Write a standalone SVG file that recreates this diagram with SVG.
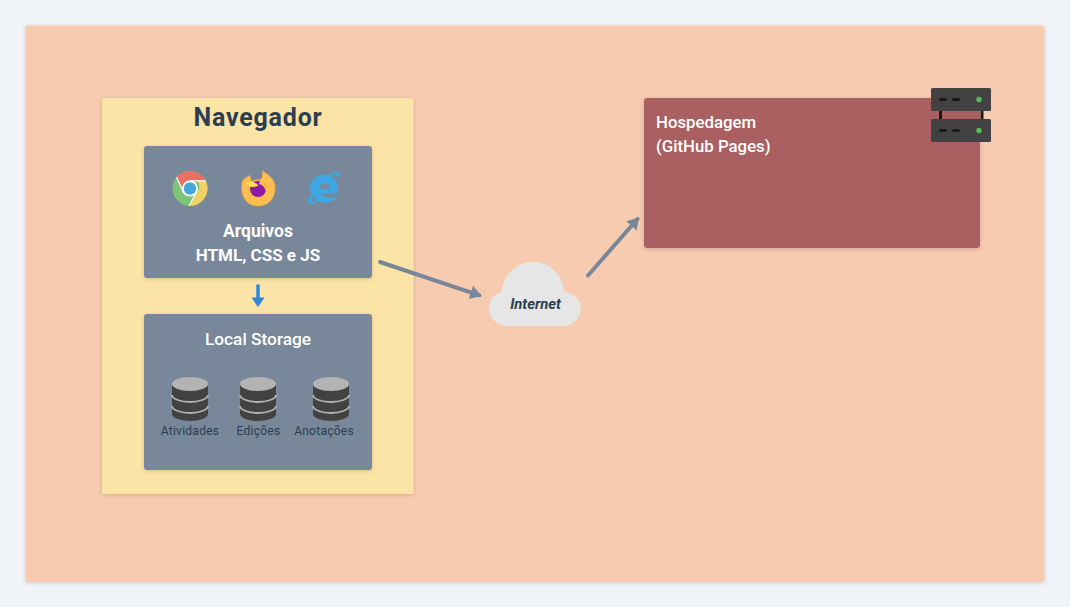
<svg xmlns="http://www.w3.org/2000/svg" width="1070" height="607" viewBox="0 0 1070 607">
<style>
text{font-family:"Roboto","Liberation Sans",sans-serif}
.w{fill:#fff;font-weight:700;font-size:17px;text-anchor:middle}
.h{fill:#fff;font-weight:500;font-size:16.800px}
.l{fill:#2c3e50;font-size:12px;text-anchor:middle;letter-spacing:.25px}
.c{fill:none;stroke:#78879a;stroke-width:4;stroke-linecap:round}
.box{fill:#78879a;filter:url(#s)}
</style>
<defs>
<filter id="s" x="-5%" y="-5%" width="110%" height="112%"><feDropShadow dx="0" dy="1" stdDeviation="2" flood-color="#000" flood-opacity=".16"/></filter>
<marker id="g" markerUnits="userSpaceOnUse" markerWidth="18" markerHeight="18" refX="12" refY="9" orient="auto"><path d="M3 2L14 9L3 16Z" fill="#78879a"/></marker>
<g id="db">
<path d="M-18 7V37C-18 41 -9 44 0 44S18 41 18 37V7Z" fill="#424242"/>
<path d="M-18 18C-18 22 -9 25 0 25S18 22 18 18M-18 29C-18 33 -9 36 0 36S18 33 18 29" fill="none" stroke="#b3b3b3" stroke-width="1.800"/>
<ellipse cx="0" cy="7" rx="18" ry="7" fill="#b3b3b3"/>
</g>
<g id="srv">
<rect x="0" y="0" width="60" height="23" rx="1.500" fill="#424242"/>
<rect x="8" y="10" width="8" height="3" rx="1.500" fill="#1a1a1a"/>
<rect x="21" y="10" width="8" height="3" rx="1.500" fill="#1a1a1a"/>
<circle cx="48" cy="11.500" r="2.700" fill="#5cb85c"/>
</g>
</defs>
<rect width="1070" height="607" fill="#f0f4f8"/>
<rect x="25.500" y="25.500" width="1019" height="556.500" rx="2" fill="#f6cbaf" filter="url(#s)"/>
<g id="navegador">
<rect x="102" y="98" width="311.500" height="396" rx="2" fill="#fce4a6" filter="url(#s)"/>
<text x="258" y="126" text-anchor="middle" font-size="25" font-weight="700" letter-spacing=".8" fill="#2c3e50">Navegador</text>
</g>
<g id="arquivos">
<rect class="box" x="144" y="146" width="228" height="132" rx="3"/>
<g id="chrome">
<circle cx="190" cy="188.500" r="17.500" fill="#7cc576"/>
<path d="M176.500 177.300A17.500 17.500 0 0 1 205.700 181H190A8 8 0 0 0 183 192.500Z" fill="#ea7066"/>
<path d="M205.900 181A17.500 17.500 0 0 1 189.500 206L197 192.500A8 8 0 0 0 197 181Z" fill="#efd165"/>
<path d="M176.500 177.300L183.500 192.500M190 180.900H205.800M196.500 192.500L189 205.700" stroke="#fff" stroke-width="1.200" fill="none"/>
<circle cx="190" cy="188.500" r="8" fill="#fff"/><circle cx="190" cy="188.500" r="6.200" fill="#42a5dc"/>
</g>
<g id="firefox">
<path d="M242.500 181C239.500 193 245 206 258 206C270 206 275.500 196 275 187C274.500 180 271 176 262 171C263.500 175 262 178 260 180C257 179.500 254 180 251.500 182C251 179 250 177 249.500 175.500C246.500 177 244 179 242.500 181Z" fill="#fdbd4f" stroke="#f7a743" stroke-width=".8"/>
<circle cx="258" cy="189" r="8" fill="#8e1aa8"/>
<path d="M245.500 183C250 180.500 255 181.500 258.500 185.500C255 187.500 251 187.500 248.500 186Z" fill="#ffe14d"/>
<path d="M260 181C264.500 182 267 187 265.500 191C264.500 187 262.500 184.500 259 184Z" fill="#fdbd4f"/>
</g>
<g id="ie" fill="#3ea6e0">
<path d="M310 188.500A14 14 0 0 1 338 188.500V193.500H321.500C322.500 196.500 325 197.500 328 197.500H337.500C335.500 200.500 330 202.500 324 202.500A14 14 0 0 1 310 188.500ZM319.500 189H330C329.500 185.500 327.500 183.500 325 183.500C322 183.500 320 185.500 319.500 189Z" fill-rule="evenodd"/>
<path d="M328 175.500C333 172 338 171 339.500 172.500C340.500 174 339.500 177 337 180C338 176 337.500 174.500 335 174.500C333 174.500 331 175 328 175.500ZM312 193C308.500 198 307 202 308.500 203.500C310.500 205 316 203.500 320 201.500C316 202.300 312.500 202.500 312 200.500C311.500 199 312.500 196 314 195Z"/>
</g>
<text class="w" x="258" y="237" font-size="17.500" style="font-size:17.500px">Arquivos</text>
<text class="w" x="258" y="260.500">HTML, CSS e JS</text>
</g>
<g id="local-storage">
<rect class="box" x="144" y="314" width="228" height="156" rx="3"/>
<text x="258" y="345" text-anchor="middle" font-size="17.300" font-weight="500" fill="#fff">Local Storage</text>
<use href="#db" x="190" y="377"/>
<use href="#db" x="258" y="377"/>
<use href="#db" x="331" y="377"/>
<text class="l" x="190" y="435">Atividades</text>
<text class="l" x="258.500" y="435">Edições</text>
<text class="l" x="324" y="435">Anotações</text>
</g>
<g id="internet">
<path d="M508 326C497 326 489 318 489 308.500C489 300 495 293.500 502 291.500C503 275 516 262 533 262C550 262 563 275 564 291.500C574 293 581 300 581 308.500C581 318 573 326 563 326Z" fill="#e6e6e6"/>
<text x="535.500" y="309" text-anchor="middle" font-size="14.800" font-weight="700" font-style="italic" fill="#2c3e50">Internet</text>
</g>
<g id="hospedagem">
<rect x="644" y="98" width="336" height="150" rx="3" fill="#aa6060" filter="url(#s)"/>
<text class="h" x="656" y="128">Hospedagem</text>
<text class="h" x="656" y="152">(GitHub Pages)</text>
<rect x="939" y="108" width="3" height="14" fill="#1a1a1a"/>
<rect x="980.500" y="108" width="3" height="14" fill="#1a1a1a"/>
<use href="#srv" x="931" y="88"/>
<use href="#srv" x="931" y="119"/>
</g>
<g id="connectors">
<path class="c" d="M380 262L479.500 295.300" marker-end="url(#g)"/>
<path class="c" d="M588 275.500L637.500 219" marker-end="url(#g)"/>
<path d="M258 284.500V299" fill="none" stroke="#2e86de" stroke-width="3.500"/>
<path d="M251.500 297.500H264.500L258 307Z" fill="#2e86de"/>
</g>
</svg>
